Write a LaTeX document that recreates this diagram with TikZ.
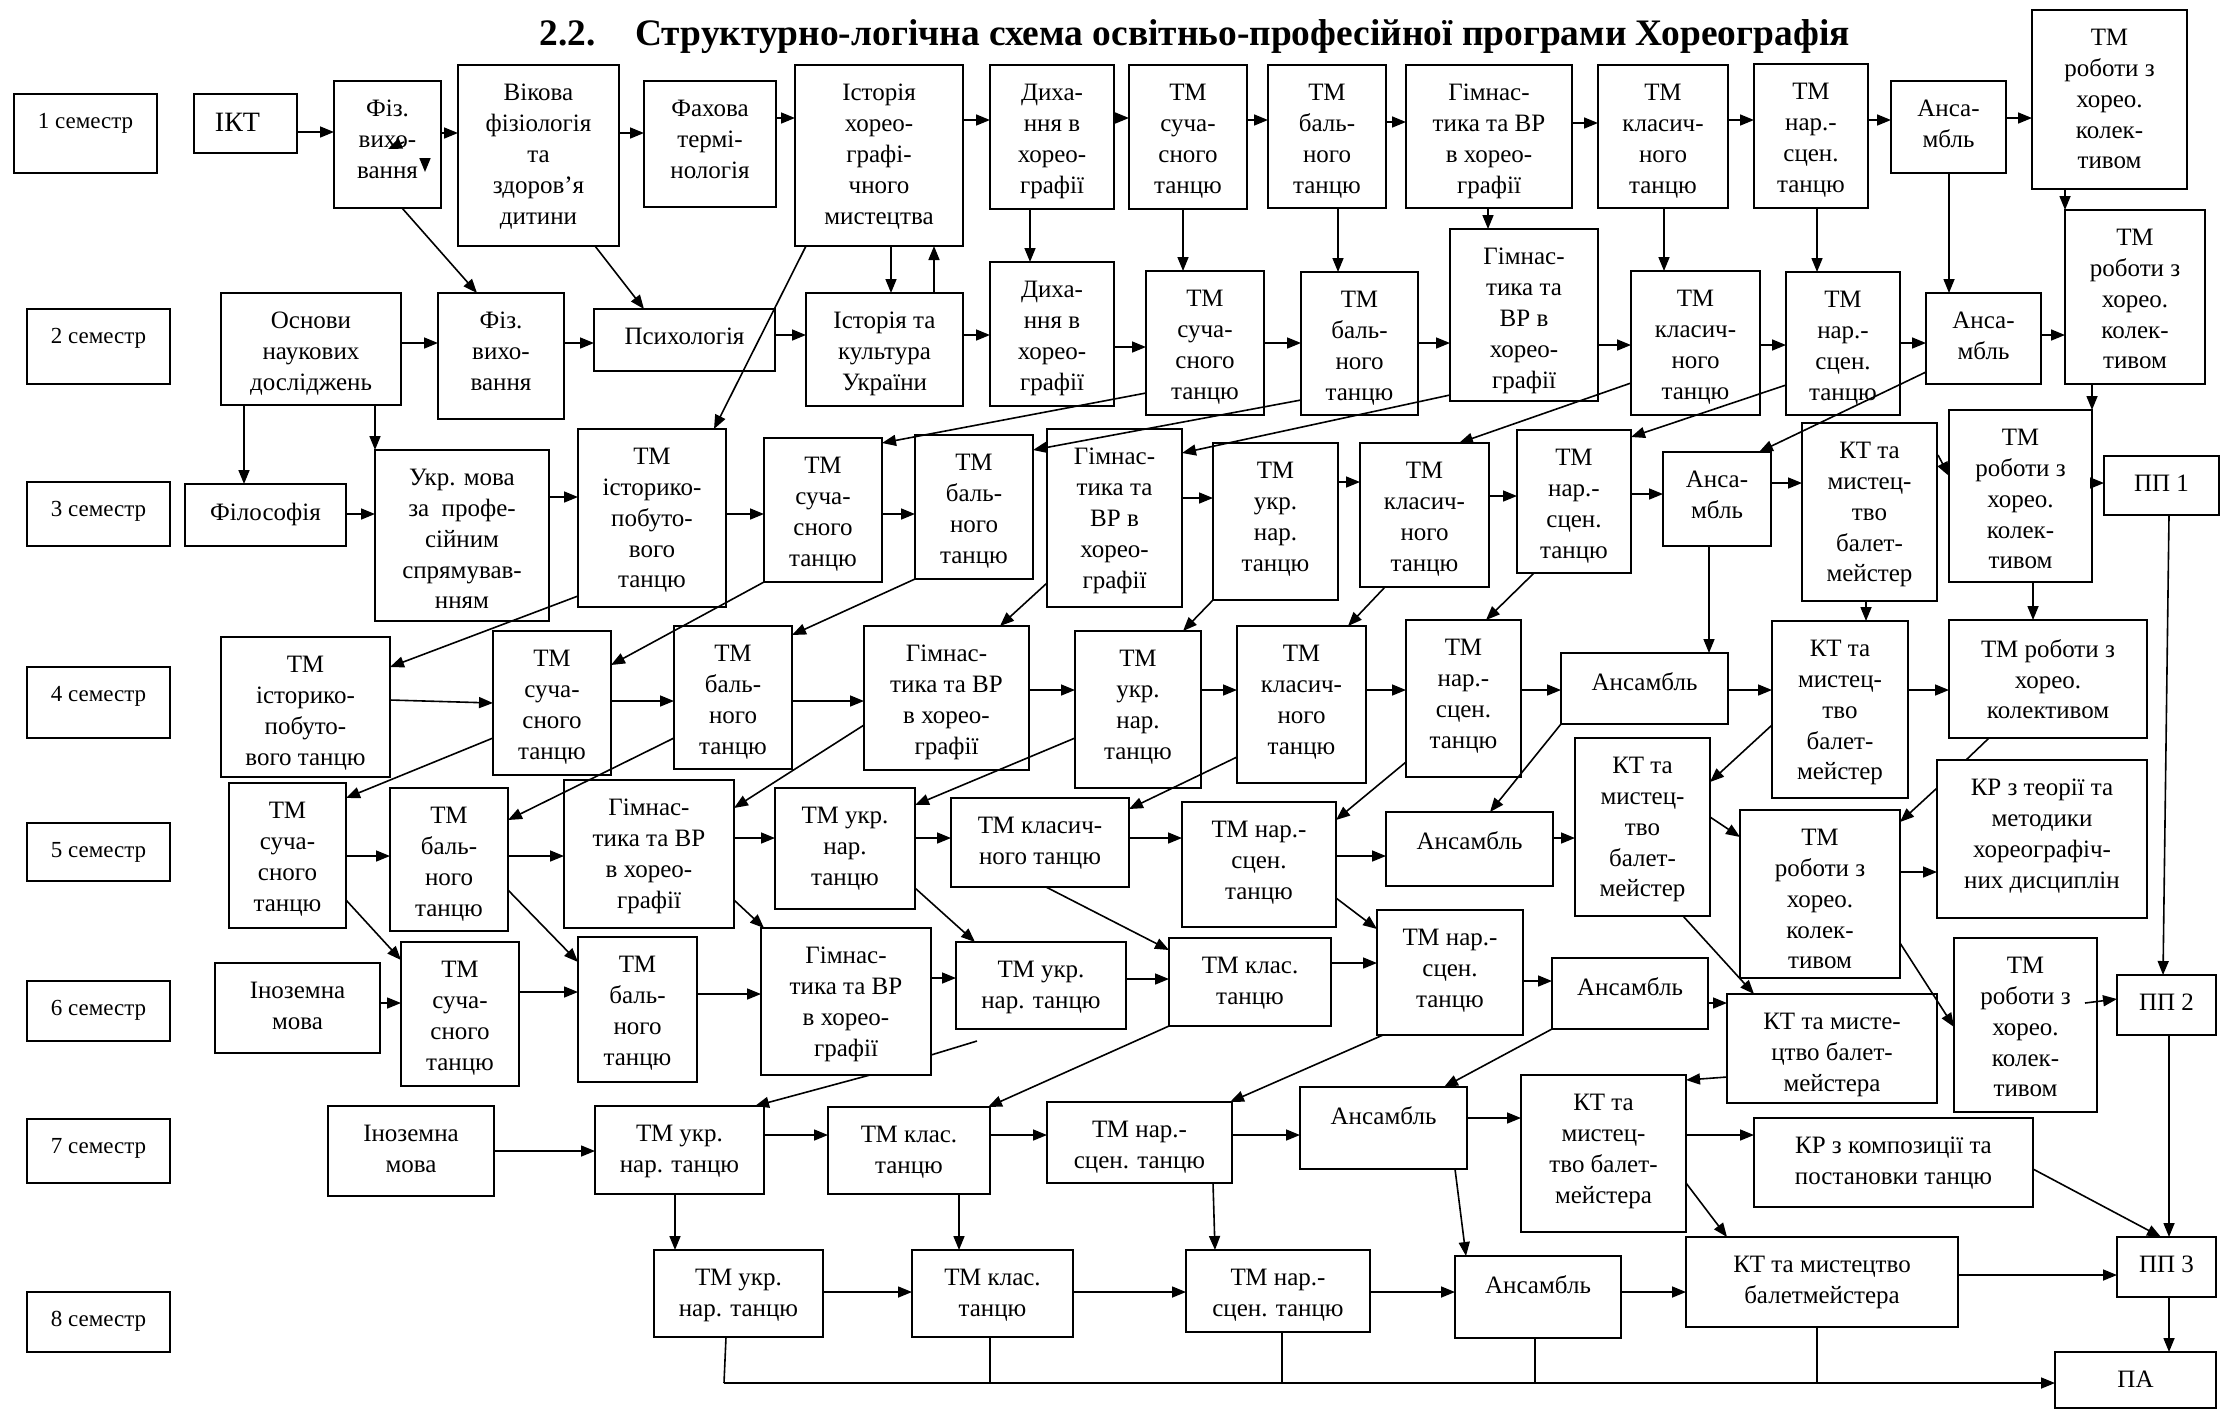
\documentclass[tikz,border=0pt]{standalone}
\usepackage{fontspec}
\setmainfont{Liberation Serif}
\usetikzlibrary{arrows.meta,calc}
\newcommand\dbox[7][]{%
  \pgfmathsetmacro\dbw{(#5-#3)/2}%
  \pgfmathsetmacro\dbh{(#6-#4)/2}%
  \node[box, minimum width=\dbw pt, minimum height=\dbh pt, anchor=north west] (#2) at (#3,#4) {};
  \node[txt, anchor=north, #1] (#2-lbl) at ([yshift=-9.5pt]#2.north) {#7};
}
\begin{document}
\begin{tikzpicture}[x=0.5pt,y=-0.5pt,
  box/.style={draw, line width=0.9pt, inner sep=0pt, outer sep=0pt, rectangle},
  txt/.style={align=center, inner sep=0pt, font=\fontsize{12.5}{15.4}\selectfont},
  sem/.style={font=\fontsize{11.5}{14}\selectfont},
  ttl/.style={inner sep=0pt, font=\bfseries\fontsize{18.7}{22}\selectfont},
  arr/.style={line width=0.8pt, -{Triangle[length=7pt,width=5.5pt]}},
  ln/.style={line width=0.8pt}]
\useasboundingbox (0,0) rectangle (2221,1410);
% title
\node[ttl, anchor=base west] (tnum) at (539,45) {2.2.};
\node[ttl, anchor=base west] (ttext) at (635,45) {Структурно-логічна схема освітньо-професійної програми Хореографія};
% semesters
\dbox[sem]{s1}{14}{94}{157}{173}{1 семестр}
\dbox[sem]{s2}{27}{309}{170}{384}{2 семестр}
\dbox[sem]{s3}{27}{482}{170}{546}{3 семестр}
\dbox[sem]{s4}{27}{667}{170}{738}{4 семестр}
\dbox[sem]{s5}{27}{823}{170}{881}{5 семестр}
\dbox[sem]{s6}{27}{981}{170}{1041}{6 семестр}
\dbox[sem]{s7}{27}{1119}{170}{1183}{7 семестр}
\dbox[sem]{s8}{27}{1292}{170}{1352}{8 семестр}
% row 1
\dbox[font=\fontsize{14}{16}\selectfont, xshift=-4pt]{ict}{194}{94}{297}{153}{ІКТ}
\dbox{fiz1}{334}{81}{441}{208}{Фіз.\\вихо-\\вання}
\dbox{vik}{458}{65}{619}{246}{Вікова\\фізіологія\\та\\здоров’я\\дитини}
\dbox{fah}{644}{81}{776}{207}{Фахова\\термі-\\нологія}
\dbox{ist}{795}{65}{963}{246}{Історія\\хорео-\\графі-\\чного\\мистецтва}
\dbox{dyh1}{990}{65}{1114}{209}{Диха-\\ння в\\хорео-\\графії}
\dbox{tms1}{1129}{65}{1247}{209}{ТМ\\суча-\\сного\\танцю}
\dbox{tmb1}{1268}{65}{1386}{208}{ТМ\\баль-\\ного\\танцю}
\dbox{gim1}{1406}{65}{1572}{208}{Гімнас-\\тика та ВР\\в хорео-\\графії}
\dbox{tmk1}{1598}{65}{1728}{208}{ТМ\\класич-\\ного\\танцю}
\dbox{tmn1}{1754}{64}{1868}{208}{ТМ\\нар.-\\сцен.\\танцю}
\dbox{ans1}{1891}{81}{2006}{173}{Анса-\\мбль}
\dbox{tmr1}{2032}{10}{2187}{189}{ТМ\\роботи з\\хорео.\\колек-\\тивом}
% row 2
\dbox{osn}{221}{293}{401}{405}{Основи\\наукових\\досліджень}
\dbox{fiz2}{438}{293}{564}{419}{Фіз.\\вихо-\\вання}
\dbox{psy}{594}{309}{775}{371}{Психологія}
\dbox{iku}{806}{293}{963}{406}{Історія та\\культура\\України}
\dbox{dyh2}{990}{262}{1114}{406}{Диха-\\ння в\\хорео-\\графії}
\dbox{tms2}{1146}{271}{1264}{415}{ТМ\\суча-\\сного\\танцю}
\dbox{tmb2}{1301}{272}{1418}{415}{ТМ\\баль-\\ного\\танцю}
\dbox{gim2}{1450}{229}{1598}{401}{Гімнас-\\тика та\\ВР в\\хорео-\\графії}
\dbox{tmk2}{1631}{271}{1760}{415}{ТМ\\класич-\\ного\\танцю}
\dbox{tmn2}{1786}{272}{1900}{415}{ТМ\\нар.-\\сцен.\\танцю}
\dbox{ans2}{1926}{293}{2041}{384}{Анса-\\мбль}
\dbox{tmr2}{2065}{210}{2205}{384}{ТМ\\роботи з\\хорео.\\колек-\\тивом}
% row 3
\dbox{fil}{185}{484}{346}{546}{Філософія}
\dbox{ukr}{375}{450}{549}{621}{Укр. мова\\за\ \ профе-\\сійним\\спрямував-\\нням}
\dbox{tmi3}{578}{429}{726}{607}{ТМ\\історико-\\побуто-\\вого\\танцю}
\dbox{tms3}{764}{438}{882}{582}{ТМ\\суча-\\сного\\танцю}
\dbox{tmb3}{915}{435}{1033}{579}{ТМ\\баль-\\ного\\танцю}
\dbox{gim3}{1047}{429}{1182}{607}{Гімнас-\\тика та\\ВР в\\хорео-\\графії}
\dbox{tmu3}{1213}{443}{1338}{600}{ТМ\\укр.\\нар.\\танцю}
\dbox{tmk3}{1360}{443}{1489}{587}{ТМ\\класич-\\ного\\танцю}
\dbox{tmn3}{1517}{430}{1631}{573}{ТМ\\нар.-\\сцен.\\танцю}
\dbox{ans3}{1663}{452}{1771}{546}{Анса-\\мбль}
\dbox{kt3}{1802}{423}{1937}{601}{КТ та\\мистец-\\тво\\балет-\\мейстер}
\dbox{tmr3}{1949}{410}{2092}{582}{ТМ\\роботи з\\хорео.\\колек-\\тивом}
\dbox{pp1}{2104}{456}{2219}{515}{ПП 1}
% row 4
\dbox{tmi4}{221}{637}{390}{777}{ТМ\\історико-\\побуто-\\вого танцю}
\dbox{tms4}{493}{631}{611}{775}{ТМ\\суча-\\сного\\танцю}
\dbox{tmb4}{674}{626}{792}{769}{ТМ\\баль-\\ного\\танцю}
\dbox{gim4}{864}{626}{1029}{770}{Гімнас-\\тика та ВР\\в хорео-\\графії}
\dbox{tmu4}{1075}{631}{1201}{788}{ТМ\\укр.\\нар.\\танцю}
\dbox{tmk4}{1237}{626}{1366}{783}{ТМ\\класич-\\ного\\танцю}
\dbox{tmn4}{1406}{620}{1521}{777}{ТМ\\нар.-\\сцен.\\танцю}
\dbox{ans4}{1561}{653}{1728}{724}{Ансамбль}
\dbox{kt4}{1772}{621}{1908}{798}{КТ та\\мистец-\\тво\\балет-\\мейстер}
\dbox{tmr4}{1949}{620}{2147}{738}{ТМ роботи з\\хорео.\\колективом}
% row 5
\dbox{tms5}{229}{783}{346}{928}{ТМ\\суча-\\сного\\танцю}
\dbox{tmb5}{390}{788}{508}{931}{ТМ\\баль-\\ного\\танцю}
\dbox{gim5}{564}{780}{734}{928}{Гімнас-\\тика та ВР\\в хорео-\\графії}
\dbox{tmu5}{775}{788}{915}{909}{ТМ укр.\\нар.\\танцю}
\dbox{tmk5}{951}{798}{1129}{887}{ТМ класич-\\ного танцю}
\dbox{tmn5}{1182}{802}{1336}{927}{ТМ нар.-\\сцен.\\танцю}
\dbox{ans5}{1386}{812}{1553}{886}{Ансамбль}
\dbox{kt5}{1575}{738}{1710}{916}{КТ та\\мистец-\\тво\\балет-\\мейстер}
\dbox{tmr5}{1740}{810}{1900}{978}{ТМ\\роботи з\\хорео.\\колек-\\тивом}
\dbox{krt}{1937}{760}{2147}{918}{КР з теорії та\\методики\\хореографіч-\\них дисциплін}
% row 6
\dbox{in6}{215}{963}{380}{1053}{Іноземна\\мова}
\dbox{tms6}{401}{942}{519}{1086}{ТМ\\суча-\\сного\\танцю}
\dbox{tmb6}{578}{937}{697}{1082}{ТМ\\баль-\\ного\\танцю}
\dbox{gim6}{761}{928}{931}{1075}{Гімнас-\\тика та ВР\\в хорео-\\графії}
\dbox{tmu6}{956}{942}{1126}{1029}{ТМ укр.\\нар. танцю}
\dbox{tmk6}{1169}{938}{1331}{1026}{ТМ клас.\\танцю}
\dbox{tmn6}{1377}{910}{1523}{1035}{ТМ нар.-\\сцен.\\танцю}
\dbox{ans6}{1552}{958}{1708}{1029}{Ансамбль}
\dbox{kt6}{1727}{994}{1937}{1103}{КТ та мисте-\\цтво балет-\\мейстера}
\dbox{tmr6}{1954}{938}{2097}{1112}{ТМ\\роботи з\\хорео.\\колек-\\тивом}
\dbox{pp2}{2117}{975}{2216}{1035}{ПП 2}
% row 7
\dbox{in7}{328}{1106}{494}{1196}{Іноземна\\мова}
\dbox{tmu7}{595}{1106}{764}{1194}{ТМ укр.\\нар. танцю}
\dbox{tmk7}{828}{1107}{990}{1194}{ТМ клас.\\танцю}
\dbox{tmn7}{1047}{1102}{1232}{1183}{ТМ нар.-\\сцен. танцю}
\dbox{ans7}{1300}{1087}{1467}{1169}{Ансамбль}
\dbox{kt7}{1521}{1075}{1686}{1232}{КТ та\\мистец-\\тво балет-\\мейстера}
\dbox{krk}{1754}{1118}{2033}{1207}{КР з композиції та\\постановки танцю}
% row 8
\dbox{tmu8}{654}{1250}{823}{1337}{ТМ укр.\\нар. танцю}
\dbox{tmk8}{912}{1250}{1073}{1337}{ТМ клас.\\танцю}
\dbox{tmn8}{1186}{1250}{1370}{1332}{ТМ нар.-\\сцен. танцю}
\dbox{ans8}{1455}{1256}{1621}{1338}{Ансамбль}
\dbox{kt8}{1686}{1237}{1958}{1327}{КТ та мистецтво\\балетмейстера}
\dbox{pp3}{2117}{1237}{2216}{1297}{ПП 3}
\dbox{pa}{2055}{1352}{2216}{1408}{ПА}
% free coordinates
\coordinate (st1a) at (404,142); \coordinate (st1b) at (388,149);
\coordinate (st2a) at (425,158); \coordinate (st2b) at (425,172);
\coordinate (st3a) at (1938,455);
\coordinate (fr1) at (977,1041);
\coordinate (fr2) at (2085,1003);
\coordinate (bus0) at (724,1383);
% row 1 horizontal
\draw[arr] (ict.east |- 0,132) -- (fiz1.west |- 0,132);
\draw[arr] (fiz1.east |- 0,133) -- (vik.west |- 0,133);
\draw[arr] (vik.east |- 0,133) -- (fah.west |- 0,133);
\draw[arr] (fah.east |- 0,118) -- (ist.west |- 0,118);
\draw[arr] (ist.east |- 0,120) -- (dyh1.west |- 0,120);
\draw[arr] (dyh1.east |- 0,118) -- (tms1.west |- 0,118);
\draw[arr] (tms1.east |- 0,120) -- (tmb1.west |- 0,120);
\draw[arr] (tmb1.east |- 0,122) -- (gim1.west |- 0,122);
\draw[arr] (gim1.east |- 0,123) -- (tmk1.west |- 0,123);
\draw[arr] (tmk1.east |- 0,120) -- (tmn1.west |- 0,120);
\draw[arr] (tmn1.east |- 0,120) -- (ans1.west |- 0,120);
\draw[arr] (ans1.east |- 0,118) -- (tmr1.west |- 0,118);
\draw[arr] (st1a) -- (st1b);
\draw[arr] (st2a) -- (st2b);
% row 1 down
\draw[arr] (fiz1.south -| 402,0) -- (fiz2.north -| 477,0);
\draw[arr] (vik.south -| 595,0) -- (psy.north -| 644,0);
\draw[arr] (ist.south -| 891,0) -- (iku.north -| 891,0);
\draw[arr] (iku.north -| 934,0) -- (ist.south -| 934,0);
\draw[arr] (dyh1.south -| 1030,0) -- (dyh2.north -| 1030,0);
\draw[arr] (tms1.south -| 1183,0) -- (tms2.north -| 1183,0);
\draw[arr] (tmb1.south -| 1338,0) -- (tmb2.north -| 1338,0);
\draw[arr] (gim1.south -| 1488,0) -- (gim2.north -| 1488,0);
\draw[arr] (tmk1.south -| 1664,0) -- (tmk2.north -| 1664,0);
\draw[arr] (tmn1.south -| 1817,0) -- (tmn2.north -| 1817,0);
\draw[arr] (ans1.south -| 1949,0) -- (ans2.north -| 1949,0);
\draw[arr] (tmr1.south -| 2065,0) -- (tmr2.north -| 2065,0);
\draw[arr] (ist.south -| 806,0) -- (tmi3.north -| 714,0);
\draw[arr] (osn.south -| 244,0) -- (fil.north -| 244,0);
\draw[arr] (osn.south -| 375,0) -- (ukr.north -| 375,0);
% row 2 horizontal
\draw[arr] (osn.east |- 0,343) -- (fiz2.west |- 0,343);
\draw[arr] (fiz2.east |- 0,343) -- (psy.west |- 0,343);
\draw[arr] (psy.east |- 0,335) -- (iku.west |- 0,335);
\draw[arr] (iku.east |- 0,335) -- (dyh2.west |- 0,335);
\draw[arr] (dyh2.east |- 0,347) -- (tms2.west |- 0,347);
\draw[arr] (tms2.east |- 0,343) -- (tmb2.west |- 0,343);
\draw[arr] (tmb2.east |- 0,343) -- (gim2.west |- 0,343);
\draw[arr] (gim2.east |- 0,345) -- (tmk2.west |- 0,345);
\draw[arr] (tmk2.east |- 0,345) -- (tmn2.west |- 0,345);
\draw[arr] (tmn2.east |- 0,343) -- (ans2.west |- 0,343);
\draw[arr] (ans2.east |- 0,335) -- (tmr2.west |- 0,335);
% row 2 -> 3
\draw[arr] (tms2.west |- 0,393) -- (tms3.east |- 0,443);
\draw[arr] (tmb2.west |- 0,400) -- (tmb3.east |- 0,450);
\draw[arr] (gim2.west |- 0,395) -- (gim3.east |- 0,453);
\draw[arr] (tmk2.west |- 0,383) -- (tmk3.north -| 1459,0);
\draw[arr] (tmn2.west |- 0,385) -- (tmn3.east |- 0,437);
\draw[arr] (ans2.west |- 0,372) -- (ans3.north -| 1759,0);
\draw[arr] (tmr2.south -| 2092,0) -- (tmr3.north -| 2092,0);
% row 3 horizontal
\draw[arr] (fil.east |- 0,514) -- (ukr.west |- 0,514);
\draw[arr] (ukr.east |- 0,497) -- (tmi3.west |- 0,497);
\draw[arr] (tmi3.east |- 0,514) -- (tms3.west |- 0,514);
\draw[arr] (tms3.east |- 0,514) -- (tmb3.west |- 0,514);
\draw[arr] (gim3.east |- 0,498) -- (tmu3.west |- 0,498);
\draw[arr] (tmu3.east |- 0,482) -- (tmk3.west |- 0,482);
\draw[arr] (tmk3.east |- 0,496) -- (tmn3.west |- 0,496);
\draw[arr] (tmn3.east |- 0,494) -- (ans3.west |- 0,494);
\draw[arr] (ans3.east |- 0,483) -- (kt3.west |- 0,483);
\draw[arr] (tmr3.east |- 0,483) -- (pp1.west |- 0,483);
\draw[arr] (st3a) -- (tmr3.west |- 0,476);
% row 3 -> 4
\draw[arr] (tmi3.west |- 0,596) -- (tmi4.east |- 0,667);
\draw[arr] (tms3.south -| 764,0) -- (tms4.east |- 0,665);
\draw[arr] (tmb3.south -| 915,0) -- (tmb4.east |- 0,635);
\draw[arr] (gim3.west |- 0,583) -- (gim4.north -| 1000,0);
\draw[arr] (tmu3.south -| 1213,0) -- (tmu4.north -| 1183,0);
\draw[arr] (tmk3.south -| 1385,0) -- (tmk4.north -| 1348,0);
\draw[arr] (tmn3.south -| 1534,0) -- (tmn4.north -| 1486,0);
\draw[arr] (ans3.south -| 1709,0) -- (ans4.north -| 1709,0);
\draw[arr] (kt3.south -| 1866,0) -- (kt4.north -| 1866,0);
\draw[arr] (tmr3.south -| 2033,0) -- (tmr4.north -| 2033,0);
\draw[arr] (pp1.south -| 2169,0) -- (pp2.north -| 2163,0);
% row 4 horizontal
\draw[arr] (tmi4.east |- 0,700) -- (tms4.west |- 0,703);
\draw[arr] (tms4.east |- 0,701) -- (tmb4.west |- 0,701);
\draw[arr] (tmb4.east |- 0,701) -- (gim4.west |- 0,701);
\draw[arr] (gim4.east |- 0,690) -- (tmu4.west |- 0,690);
\draw[arr] (tmu4.east |- 0,690) -- (tmk4.west |- 0,690);
\draw[arr] (tmk4.east |- 0,690) -- (tmn4.west |- 0,690);
\draw[arr] (tmn4.east |- 0,690) -- (ans4.west |- 0,690);
\draw[arr] (ans4.east |- 0,690) -- (kt4.west |- 0,690);
\draw[arr] (kt4.east |- 0,690) -- (tmr4.west |- 0,690);
% row 4 -> 5
\draw[arr] (tms4.west |- 0,738) -- (tms5.east |- 0,798);
\draw[arr] (tmb4.west |- 0,738) -- (tmb5.east |- 0,820);
\draw[arr] (gim4.west |- 0,725) -- (gim5.east |- 0,808);
\draw[arr] (tmu4.west |- 0,738) -- (tmu5.east |- 0,805);
\draw[arr] (tmk4.west |- 0,757) -- (tmk5.east |- 0,809);
\draw[arr] (tmn4.west |- 0,762) -- (tmn5.east |- 0,820);
\draw[arr] (ans4.south west) -- (ans5.north -| 1490,0);
\draw[arr] (kt4.west |- 0,725) -- (kt5.east |- 0,782);
\draw[ln] (tmr4.south -| 1989,0) -- (krt.north -| 1966,0);
\draw[arr] (krt.west |- 0,788) -- (tmr5.east |- 0,822);
% row 5 horizontal
\draw[arr] (tms5.east |- 0,856) -- (tmb5.west |- 0,856);
\draw[arr] (tmb5.east |- 0,856) -- (gim5.west |- 0,856);
\draw[arr] (gim5.east |- 0,838) -- (tmu5.west |- 0,838);
\draw[arr] (tmu5.east |- 0,838) -- (tmk5.west |- 0,838);
\draw[arr] (tmk5.east |- 0,838) -- (tmn5.west |- 0,838);
\draw[arr] (tmn5.east |- 0,856) -- (ans5.west |- 0,856);
\draw[arr] (ans5.east |- 0,838) -- (kt5.west |- 0,838);
\draw[arr] (kt5.east |- 0,817) -- (tmr5.west |- 0,837);
\draw[arr] (tmr5.east |- 0,872) -- (krt.west |- 0,872);
% row 5 -> 6
\draw[arr] (tms5.east |- 0,900) -- (tms6.west |- 0,960);
\draw[arr] (tmb5.east |- 0,890) -- (tmb6.west |- 0,962);
\draw[arr] (gim5.east |- 0,900) -- (gim6.north -| 764,0);
\draw[arr] (tmu5.east |- 0,888) -- (tmu6.north -| 975,0);
\draw[arr] (tmk5.south -| 1046,0) -- (tmk6.west |- 0,950);
\draw[arr] (tmn5.east |- 0,898) -- (tmn6.west |- 0,929);
\draw[arr] (kt5.south -| 1683,0) -- (kt6.north -| 1754,0);
\draw[arr] (tmr5.east |- 0,943) -- (tmr6.west |- 0,1027);
% row 6 horizontal
\draw[arr] (in6.east |- 0,1003) -- (tms6.west |- 0,1003);
\draw[arr] (tms6.east |- 0,992) -- (tmb6.west |- 0,992);
\draw[arr] (tmb6.east |- 0,994) -- (gim6.west |- 0,994);
\draw[arr] (gim6.east |- 0,978) -- (tmu6.west |- 0,978);
\draw[arr] (tmu6.east |- 0,979) -- (tmk6.west |- 0,979);
\draw[arr] (tmk6.east |- 0,963) -- (tmn6.west |- 0,963);
\draw[arr] (tmn6.east |- 0,981) -- (ans6.west |- 0,981);
\draw[arr] (ans6.east |- 0,1003) -- (kt6.west |- 0,1003);
\draw[arr] (fr2) -- (pp2.west |- 0,999);
% row 6 -> 7
\draw[ln] (fr1) -- (gim6.east |- 0,1055);
\draw[arr] (gim6.south -| 870,0) -- (tmu7.north -| 755,0);
\draw[arr] (tmk6.south west) -- (tmk7.north -| 988,0);
\draw[arr] (tmn6.south -| 1383,0) -- (tmn7.north -| 1230,0);
\draw[arr] (ans6.south west) -- (ans7.north -| 1444,0);
\draw[arr] (kt6.west |- 0,1077) -- (kt7.east |- 0,1080);
% row 7 horizontal
\draw[arr] (in7.east |- 0,1151) -- (tmu7.west |- 0,1151);
\draw[arr] (tmu7.east |- 0,1135) -- (tmk7.west |- 0,1135);
\draw[arr] (tmk7.east |- 0,1135) -- (tmn7.west |- 0,1135);
\draw[arr] (tmn7.east |- 0,1135) -- (ans7.west |- 0,1135);
\draw[arr] (ans7.east |- 0,1118) -- (kt7.west |- 0,1118);
\draw[arr] (kt7.east |- 0,1135) -- (krk.west |- 0,1135);
% row 7 -> 8
\draw[arr] (tmu7.south -| 675,0) -- (tmu8.north -| 675,0);
\draw[arr] (tmk7.south -| 959,0) -- (tmk8.north -| 959,0);
\draw[arr] (tmn7.south -| 1213,0) -- (tmn8.north -| 1215,0);
\draw[arr] (ans7.south -| 1455,0) -- (ans8.north -| 1466,0);
\draw[arr] (kt7.east |- 0,1183) -- (kt8.north -| 1727,0);
\draw[arr] (krk.east |- 0,1169) -- (pp3.north -| 2161,0);
\draw[arr] (pp2.south -| 2169,0) -- (pp3.north -| 2169,0);
% row 8 horizontal
\draw[arr] (tmu8.east |- 0,1292) -- (tmk8.west |- 0,1292);
\draw[arr] (tmk8.east |- 0,1292) -- (tmn8.west |- 0,1292);
\draw[arr] (tmn8.east |- 0,1292) -- (ans8.west |- 0,1292);
\draw[arr] (ans8.east |- 0,1292) -- (kt8.west |- 0,1292);
\draw[arr] (kt8.east |- 0,1275) -- (pp3.west |- 0,1275);
\draw[arr] (pp3.south -| 2169,0) -- (pa.north -| 2169,0);
% bus to ПА
\draw[ln] (tmu8.south -| 726,0) -- (bus0);
\draw[arr] (bus0) -- (pa.west |- 0,1383);
\draw[ln] (tmk8.south -| 990,0) -- (bus0 -| 990,0);
\draw[ln] (tmn8.south -| 1282,0) -- (bus0 -| 1282,0);
\draw[ln] (ans8.south -| 1535,0) -- (bus0 -| 1535,0);
\draw[ln] (kt8.south -| 1817,0) -- (bus0 -| 1817,0);
\end{tikzpicture}
\end{document}
